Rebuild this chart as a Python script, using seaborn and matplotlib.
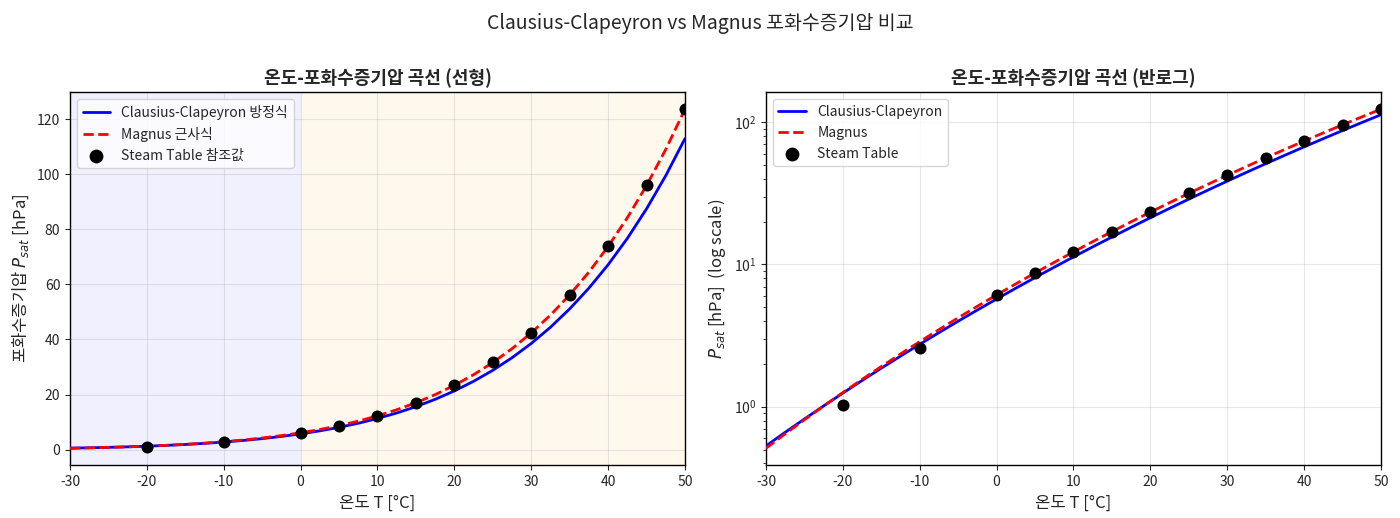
import numpy as np
import pandas as pd
import matplotlib
matplotlib.use("Agg")
import matplotlib.pyplot as plt
import seaborn as sns

# ---- data ----
temp_curve = [-30, -27.5, -25, -22.5, -20, -17.5, -15, -12.5, -10, -7.5, -5, -2.5,
              0, 2.5, 5, 7.5, 10, 12.5, 15, 17.5, 20, 22.5, 25, 27.5, 30, 32.5,
              35, 37.5, 40, 42.5, 45, 47.5, 50]
cc_values = [0.530, 0.661, 0.820, 1.013, 1.247, 1.529, 1.866, 2.269, 2.749, 3.319,
             3.993, 4.787, 5.72, 6.813, 8.089, 9.574, 11.30, 13.30, 15.60, 18.26,
             21.31, 24.81, 28.80, 33.36, 38.54, 44.43, 51.10, 58.62, 67.13, 76.68,
             87.43, 99.47, 112.94]
magnus_values = [0.511, 0.645, 0.810, 1.012, 1.258, 1.556, 1.917, 2.350, 2.868, 3.486,
                 4.219, 5.087, 6.109, 7.310, 8.716, 10.355, 12.260, 14.469, 17.020,
                 19.959, 23.335, 27.201, 31.618, 36.649, 42.366, 48.848, 56.176,
                 64.443, 73.747, 84.196, 95.904, 108.996, 123.606]
steam_temp = [-20, -10, 0, 5, 10, 15, 20, 25, 30, 35, 40, 45, 50]
steam_values = [1.03, 2.60, 6.11, 8.72, 12.28, 17.04, 23.39, 31.69, 42.47, 56.29,
                73.84, 95.93, 123.5]

curve_df = pd.DataFrame({"T": temp_curve, "cc": cc_values, "mag": magnus_values})
steam_df = pd.DataFrame({"T": steam_temp, "P": steam_values})

sns.set_style("white")
plt.rcParams["font.family"] = ["Noto Sans CJK KR", "DejaVu Sans"]
plt.rcParams["axes.unicode_minus"] = False
plt.rcParams["mathtext.fontset"] = "dejavusans"

fig, axes = plt.subplots(1, 2, figsize=(14, 5.18), dpi=100)
fig.subplots_adjust(left=0.05, right=0.9864, top=0.822, bottom=0.102, wspace=0.1317)

labels = [
    ("Clausius-Clapeyron 방정식", "Magnus 근사식", "Steam Table 참조값"),
    ("Clausius-Clapeyron", "Magnus", "Steam Table"),
]

for i, ax in enumerate(axes):
    if i == 0:
        ax.axvspan(-30, 0, color="blue", alpha=0.06, lw=0, zorder=0)
        ax.axvspan(0, 50, color="orange", alpha=0.07, lw=0, zorder=0)
    sns.lineplot(data=curve_df, x="T", y="cc", ax=ax, color="blue", lw=2,
                 label=labels[i][0], zorder=3)
    sns.lineplot(data=curve_df, x="T", y="mag", ax=ax, color="red", lw=2,
                 label=labels[i][1], zorder=4)
    ax.lines[-1].set_linestyle((0, (3.7, 1.6)))
    sns.scatterplot(data=steam_df, x="T", y="P", ax=ax, color="black", s=75,
                    edgecolor="black", linewidth=0, label=labels[i][2], zorder=5)
    ax.set_xlim(-30, 50)
    ax.grid(True, alpha=0.3, color="#b0b0b0")
    ax.set_axisbelow(True)
    ax.tick_params(axis="both", direction="out", length=3.5, width=0.8,
                   labelsize=10, left=True, bottom=True)
    for sp in ax.spines.values():
        sp.set_visible(True)
        sp.set_color("black")
        sp.set_linewidth(1.0)
    ax.set_xlabel("온도 T [°C]", fontsize=12)
    leg = ax.legend(loc="upper left", fontsize=10, frameon=True, framealpha=0.8,
                    edgecolor="#cccccc", fancybox=True, markerscale=1.15)
    leg.get_lines()[1].set_linestyle((0, (3.7, 1.6)))

axes[0].set_title("온도-포화수증기압 곡선 (선형)", fontsize=13, fontweight="bold")
axes[0].set_ylabel("포화수증기압 $P_{sat}$ [hPa]", fontsize=12)

axes[1].set_yscale("log")
axes[1].set_title("온도-포화수증기압 곡선 (반로그)", fontsize=13, fontweight="bold")
axes[1].set_ylabel("$P_{sat}$ [hPa]  (log scale)", fontsize=12)
axes[1].tick_params(axis="y", which="minor", length=2, left=True)

fig.suptitle("Clausius-Clapeyron vs Magnus 포화수증기압 비교", fontsize=14, y=0.975)

fig.savefig("out.png", dpi=100)
